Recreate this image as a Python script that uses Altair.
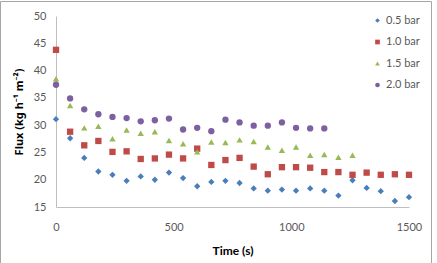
import altair as alt
import pandas as pd

# Sampling times (s), one reading every 60 s
time_s = [t * 60 for t in range(26)]

# Permeate flux (kg h-1 m-2) at each transmembrane pressure
flux_05 = [31.1, 27.6, 24.0, 21.5, 20.9, 19.8, 20.6, 20.0, 21.3, 20.3, 18.8, 19.6, 19.8,
           19.4, 18.4, 18.0, 18.2, 18.0, 18.4, 18.0, 17.1, 19.9, 18.5, 17.9, 16.1, 16.8]
flux_10 = [43.8, 28.8, 26.3, 27.1, 25.1, 25.2, 23.8, 23.9, 24.6, 23.9, 25.7, 22.7, 23.6,
           24.0, 22.4, 21.0, 22.3, 22.3, 22.2, 21.4, 21.4, 20.9, 21.3, 20.9, 21.0, 20.9]
flux_15 = [38.5, 33.6, 29.5, 29.8, 27.5, 29.1, 28.5, 28.8, 27.2, 26.6, 25.1, 26.9, 26.8,
           27.3, 27.0, 26.0, 25.4, 26.0, 24.5, 24.6, 24.1, 24.5]
flux_20 = [37.4, 34.9, 32.9, 32.0, 31.5, 31.3, 30.7, 30.9, 31.2, 29.2, 29.5, 28.9, 31.0,
           30.5, 29.9, 29.9, 30.5, 29.5, 29.4, 29.4]

series_names = ["0.5 bar", "1.0 bar", "1.5 bar", "2.0 bar"]
series_values = [flux_05, flux_10, flux_15, flux_20]
series_colors = ["#4A7EBB", "#BE4B48", "#98B954", "#7D60A0"]
series_shapes = ["diamond", "square", "triangle-up", "circle"]

rows = []
for name, vals in zip(series_names, series_values):
    for t, v in zip(time_s, vals):
        rows.append({"Time": t, "Flux": v, "Pressure": name})
df = pd.DataFrame(rows)

W, H = 353, 191
FONT = "Lato"
GREY = "#595959"

points = alt.Chart(df).mark_point(filled=True, opacity=1, size=40).encode(
    x=alt.X("Time:Q",
            scale=alt.Scale(domain=[0, 1500], nice=False, zero=False),
            axis=alt.Axis(values=[0, 500, 1000, 1500], format="d", title="Time (s)",
                          grid=False, ticks=False, domainColor="#BFBFBF",
                          labelFlush=False,
                          labelColor=GREY, labelFontSize=11, labelFont=FONT,
                          labelPadding=14, titleFont=FONT, titleFontSize=12,
                          titleFontWeight="bold", titleColor="#000000",
                          titlePadding=13)),
    y=alt.Y("Flux:Q",
            scale=alt.Scale(domain=[15, 50], nice=False, zero=False),
            axis=alt.Axis(values=[15, 20, 25, 30, 35, 40, 45, 50],
                          title="Flux (kg h\u207b\u00b9 m\u207b\u00b2)",
                          grid=False, ticks=False, domainColor="#BFBFBF",
                          labelFlush=False,
                          labelColor=GREY, labelFontSize=11, labelFont=FONT,
                          labelPadding=10, titleFont="Noto Sans", titleFontSize=11,
                          titleFontWeight="bold", titleColor="#000000",
                          titlePadding=9)),
    color=alt.Color("Pressure:N",
                    scale=alt.Scale(domain=series_names, range=series_colors),
                    legend=alt.Legend(title=None, orient="none", legendX=316, legendY=-1,
                                      labelFont=FONT, labelFontSize=11, labelColor=GREY,
                                      symbolSize=22, rowPadding=9.5, labelOffset=3)),
    shape=alt.Shape("Pressure:N",
                    scale=alt.Scale(domain=series_names, range=series_shapes)),
)

# Outer frame around the chart area
frame_top = alt.Chart().mark_rule(color="#A6A6A6", strokeWidth=1).encode(
    x=alt.value(-55.5), x2=alt.value(375.5), y=alt.value(-14.5))
frame_left = alt.Chart().mark_rule(color="#A6A6A6", strokeWidth=1).encode(
    x=alt.value(-55.5), y=alt.value(-14.5), y2=alt.value(250))
frame_right = alt.Chart().mark_rule(color="#A6A6A6", strokeWidth=1).encode(
    x=alt.value(375.5), y=alt.value(-14.5), y2=alt.value(250))

chart = alt.layer(points, frame_top, frame_left, frame_right).properties(
    width=W, height=H,
    autosize=alt.AutoSizeParams(type="none"),
    padding={"left": 56, "top": 16, "right": 28, "bottom": 56},
    background="white",
).configure_view(stroke=None)

chart.save("out.html", embed_options={"renderer": "svg", "actions": False})
